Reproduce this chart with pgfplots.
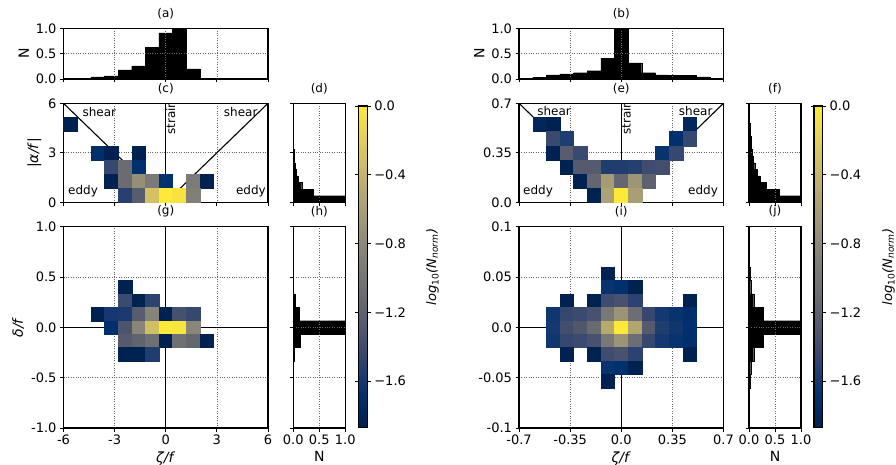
\documentclass[border=0pt]{standalone}
\usepackage{fontspec}
\setmainfont{DejaVu Sans}
\usepackage{pgfplots}
\pgfplotsset{compat=1.18}
\pgfplotsset{colormap={cividis}{rgb255=(0,32,77) rgb255=(0,48,111) rgb255=(45,66,112) rgb255=(80,86,110) rgb255=(104,106,112) rgb255=(124,123,120) rgb255=(149,143,120) rgb255=(174,163,115) rgb255=(201,184,104) rgb255=(229,207,90) rgb255=(254,232,56)}}
\newcommand{\fs}[1]{\fontsize{#1}{#1}\selectfont}
\tikzset{ann/.style={font=\fs{12}}, ref/.style={black, line width=1.1pt}}
\pgfplotsset{
 base/.style={scale only axis, anchor=south west, axis line style={line width=1.2pt},
   every tick/.style={black, line width=0.9pt}, tick align=outside, major tick length=3.5pt,
   xtick pos=bottom, ytick pos=left, grid=major, grid style={dotted, black!60, line width=0.7pt},
   axis on top, scaled ticks=false, tick label style={font=\fs{13}}, label style={font=\fs{14}},
   title style={font=\fs{12}, at={(0.5,1)}, anchor=south, yshift=0pt},
   colormap name=cividis, point meta min=-1.87, point meta max=0},
 hmap/.style={axis on top=false},
 heat/.style={scatter, only marks, mark=square*, point meta=explicit,
   scatter/use mapped color={draw=mapped color, fill=mapped color}},
 hist/.style={fill=black, draw=black, line width=0.2pt},
 cb/.style={scale only axis, anchor=south west, hide axis, width=8.6pt, height=321.5pt, xmin=0, xmax=1, ymin=0, ymax=1,
   colormap name=cividis, point meta min=-1.87, point meta max=0, colorbar, colorbar shift/.style={},
   colorbar style={at={(parent axis.south west)}, anchor=south west, scale only axis, width=8.6pt, height=321.5pt,
     axis line style={line width=1.2pt}, every tick/.style={black, line width=0.9pt}, tick align=outside, major tick length=3.5pt,
     ytick={0,-0.4,-0.8,-1.2,-1.6}, yticklabels={0.0,−0.4,−0.8,−1.2,−1.6}, tick label style={font=\fs{13}}}},
}
\begin{document}
\begin{tikzpicture}
\useasboundingbox (0,0) rectangle (896pt,464pt);
% ---------------- LEFT ----------------
\begin{axis}[base, at={(63.5pt,385pt)}, width=204.5pt, height=50.7pt,
 xmin=-6, xmax=6, ymin=0, ymax=1, xtick={-6,-3,0,3,6}, xticklabels={,,,,}, ytick={0,0.5,1}, yticklabels={0.0,0.5,1.0},
 ylabel={N}, title={(a)}]
\addplot[ybar interval, hist] coordinates {(-4.4,0.04) (-3.6,0.06) (-2.8,0.18) (-2.0,0.26) (-1.2,0.62) (-0.4,0.91) (0.4,1.0) (1.2,0.2) (2.0,0.2)};
\end{axis}
\begin{axis}[base, hmap, at={(63.5pt,261.7pt)}, width=204.5pt, height=99pt,
 xmin=-6, xmax=6, ymin=0, ymax=6, xtick={-6,-3,0,3,6}, xticklabels={,,,,}, ytick={0,3,6}, yticklabels={0,3,6},
 ylabel={|\textit{α/f}|}, title={(c)}]
\addplot[heat, mark size=6.82pt, mark options={line width=0.2pt, yscale=1.037}] coordinates {
(-5.6,4.714) [-1.85]
(-4.0,3.0) [-1.70] (-3.2,3.0) [-1.85] (-1.6,3.0) [-1.85]
(-3.2,2.1429) [-1.45] (-2.4,2.1429) [-1.10] (-1.6,2.1429) [-1.68]
(-3.2,1.2857) [-1.85] (-2.4,1.2857) [-1.10] (-1.6,1.2857) [-0.75] (-0.8,1.2857) [-0.94] (0,1.2857) [-1.68] (1.6,1.2857) [-0.93] (2.4,1.2857) [-1.85]
(-2.4,0.4286) [-1.52] (-1.6,0.4286) [-1.25] (-0.8,0.4286) [-0.30] (0,0.4286) [0] (0.8,0.4286) [-0.04] (1.6,0.4286) [-0.90]
};
\addplot[ref] coordinates {(-6,6) (0,0) (6,6)};
\addplot[ref] coordinates {(0,0) (0,6)};
\node[ann] at (axis cs:-3.9,5.5) {shear};
\node[ann] at (axis cs:4.4,5.5) {shear};
\node[ann] at (axis cs:-4.85,0.68) {eddy};
\node[ann] at (axis cs:5.0,0.68) {eddy};
\node[ann, rotate=90, anchor=north east, inner sep=0pt, xshift=3pt] at (axis cs:0,6) {strain};
\end{axis}
\begin{axis}[base, hmap, at={(63.5pt,36pt)}, width=204.5pt, height=201.3pt,
 xmin=-6, xmax=6, ymin=-1, ymax=1, xtick={-6,-3,0,3,6}, xticklabels={-6,-3,0,3,6},
 ytick={-1,-0.5,0,0.5,1}, yticklabels={-1.0,-0.5,0.0,0.5,1.0},
 xlabel={\textit{ζ/f}}, ylabel={\textit{δ/f}}, title={(g)}]
\addplot[heat, mark size=6.82pt, mark options={line width=0.2pt, yscale=0.985}] coordinates {
(-2.4,0.4) [-1.85]
(-2.4,0.2667) [-1.42] (-1.6,0.2667) [-1.85] (-0.8,0.2667) [-1.50]
(-4.0,0.1333) [-1.85] (-3.2,0.1333) [-1.60] (-2.4,0.1333) [-1.57] (-1.6,0.1333) [-1.25] (-0.8,0.1333) [-0.86] (0,0.1333) [-1.85] (0.8,0.1333) [-1.36] (1.6,0.1333) [-1.44]
(-3.2,0) [-1.70] (-2.4,0) [-1.33] (-1.6,0) [-0.84] (-0.8,0) [-0.32] (0,0) [0] (0.8,0) [-0.03] (1.6,0) [-0.84]
(-2.4,-0.1333) [-1.27] (-1.6,-0.1333) [-1.18] (-0.8,-0.1333) [-1.06] (0,-0.1333) [-1.85] (0.8,-0.1333) [-1.06] (1.6,-0.1333) [-1.15] (2.4,-0.1333) [-1.85]
(-2.4,-0.2667) [-1.85] (-1.6,-0.2667) [-1.85] (-0.8,-0.2667) [-1.55]
};
\addplot[ref] coordinates {(0,-1) (0,1)};
\addplot[ref] coordinates {(-6,0) (6,0)};
\end{axis}
\begin{axis}[base, at={(293.3pt,261.7pt)}, width=52pt, height=99pt,
 xmin=0, xmax=1, ymin=0, ymax=6, xtick={0,0.5,1}, xticklabels={,,}, ytick={0,3,6}, yticklabels={,,}, title={(d)}]
\addplot[xbar interval, hist] coordinates {(1,0) (0.39,0.4) (0.16,0.8) (0.1,1.2) (0.06,1.6) (0.035,2.0) (0.02,2.4) (0.006,2.8) (0.006,3.2)};
\end{axis}
\begin{axis}[base, at={(293.3pt,36pt)}, width=52pt, height=201.3pt,
 xmin=0, xmax=1, ymin=-1, ymax=1, xtick={0,0.5,1}, xticklabels={0.0,0.5,1.0}, ytick={-1,-0.5,0,0.5,1}, yticklabels={,,,,},
 xlabel={N}, title={(h)}]
\addplot[xbar interval, hist] coordinates {(0.006,-0.3333) (0.125,-0.2) (1,-0.0667) (0.11,0.0667) (0.033,0.2) (0.005,0.3333) (0.005,0.4667)};
\end{axis}
\begin{axis}[cb, at={(358.7pt,36.5pt)}]
\addplot[draw=none] coordinates {(0,0)};
\end{axis}
\node[font=\fs{13}, rotate=90, inner sep=0pt] at (432.5pt,197pt) {\textit{log}\textsubscript{10}\textit{(N}\textsubscript{\textit{norm}}\textit{)}};
% ---------------- RIGHT ----------------
\begin{axis}[base, at={(519pt,385pt)}, width=204.5pt, height=50.7pt,
 xmin=-0.7, xmax=0.7, ymin=0, ymax=1, xtick={-0.7,-0.35,0,0.35,0.7}, xticklabels={,,,,}, ytick={0,0.5,1}, yticklabels={0.0,0.5,1.0},
 ylabel={N}, title={(b)}]
\addplot[ybar interval, hist] coordinates {(-0.7,0.013) (-0.6067,0.033) (-0.5133,0.08) (-0.42,0.1) (-0.3267,0.125) (-0.2333,0.165) (-0.14,0.41) (-0.0467,1.0) (0.0467,0.32) (0.14,0.125) (0.2333,0.08) (0.3267,0.072) (0.42,0.072) (0.5133,0.04) (0.6067,0.013) (0.7,0.013)};
\end{axis}
\begin{axis}[base, hmap, at={(519pt,261.7pt)}, width=204.5pt, height=99pt,
 xmin=-0.7, xmax=0.7, ymin=0, ymax=0.7, xtick={-0.7,-0.35,0,0.35,0.7}, xticklabels={,,,,}, ytick={0,0.35,0.7}, yticklabels={0.0,0.35,0.7},
 title={(e)}]
\addplot[heat, mark size=6.82pt, mark options={line width=0.2pt, yscale=1.037}] coordinates {
(-0.56,0.55) [-1.80] (-0.4667,0.55) [-1.85] (0.4667,0.55) [-1.78]
(-0.4667,0.45) [-1.43] (-0.3733,0.45) [-1.55] (0.3733,0.45) [-1.68] (0.4667,0.45) [-1.45]
(-0.4667,0.35) [-1.85] (-0.3733,0.35) [-1.25] (-0.28,0.35) [-1.43] (0.28,0.35) [-1.65] (0.3733,0.35) [-1.45]
(-0.3733,0.25) [-1.85] (-0.28,0.25) [-1.27] (-0.1867,0.25) [-1.27] (-0.0933,0.25) [-1.55] (0,0.25) [-1.55] (0.0933,0.25) [-1.53] (0.1867,0.25) [-1.40] (0.28,0.25) [-1.38]
(-0.28,0.15) [-1.85] (-0.1867,0.15) [-1.16] (-0.0933,0.15) [-0.63] (0,0.15) [-1.15] (0.0933,0.15) [-0.69] (0.1867,0.15) [-1.20]
(-0.1867,0.05) [-1.85] (-0.0933,0.05) [-0.57] (0,0.05) [0] (0.0933,0.05) [-0.60]
};
\addplot[ref] coordinates {(-0.7,0.7) (0,0) (0.7,0.7)};
\addplot[ref] coordinates {(0,0) (0,0.7)};
\node[ann] at (axis cs:-0.46,0.645) {shear};
\node[ann] at (axis cs:0.51,0.645) {shear};
\node[ann] at (axis cs:-0.57,0.078) {eddy};
\node[ann] at (axis cs:0.56,0.078) {eddy};
\node[ann, rotate=90, anchor=north east, inner sep=0pt, xshift=3pt] at (axis cs:0,0.7) {strain};
\end{axis}
\begin{axis}[base, hmap, at={(519pt,36pt)}, width=204.5pt, height=201.3pt,
 xmin=-0.7, xmax=0.7, ymin=-0.1, ymax=0.1, xtick={-0.7,-0.35,0,0.35,0.7}, xticklabels={-0.7,-0.35,0.0,0.35,0.7},
 ytick={-0.1,-0.05,0,0.05,0.1}, yticklabels={-0.1,-0.05,0.0,0.05,0.1},
 xlabel={\textit{ζ/f}}, title={(i)}]
\addplot[heat, mark size=6.82pt, mark options={line width=0.2pt, yscale=0.985}] coordinates {
(-0.0933,0.05333) [-1.85]
(-0.0933,0.04) [-1.65] (0,0.04) [-1.68] (0.0933,0.04) [-1.85]
(-0.3733,0.02667) [-1.85] (-0.1867,0.02667) [-1.85] (-0.0933,0.02667) [-1.40] (0,0.02667) [-1.35] (0.0933,0.02667) [-1.50] (0.4667,0.02667) [-1.85]
(-0.4667,0.01333) [-1.62] (-0.3733,0.01333) [-1.45] (-0.28,0.01333) [-1.42] (-0.1867,0.01333) [-1.35] (-0.0933,0.01333) [-0.97] (0,0.01333) [-0.70] (0.0933,0.01333) [-1.08] (0.1867,0.01333) [-1.45] (0.28,0.01333) [-1.60] (0.3733,0.01333) [-1.65] (0.4667,0.01333) [-1.70]
(-0.4667,0) [-1.60] (-0.3733,0) [-1.38] (-0.28,0) [-1.31] (-0.1867,0) [-1.12] (-0.0933,0) [-0.50] (0,0) [0] (0.0933,0) [-0.54] (0.1867,0) [-1.27] (0.28,0) [-1.55] (0.3733,0) [-1.62] (0.4667,0) [-1.68]
(-0.4667,-0.01333) [-1.62] (-0.3733,-0.01333) [-1.45] (-0.28,-0.01333) [-1.42] (-0.1867,-0.01333) [-1.35] (-0.0933,-0.01333) [-0.97] (0,-0.01333) [-0.70] (0.0933,-0.01333) [-1.08] (0.1867,-0.01333) [-1.45] (0.28,-0.01333) [-1.60] (0.3733,-0.01333) [-1.65] (0.4667,-0.01333) [-1.70]
(-0.3733,-0.02667) [-1.85] (-0.1867,-0.02667) [-1.85] (-0.0933,-0.02667) [-1.40] (0,-0.02667) [-1.35] (0.0933,-0.02667) [-1.50] (0.4667,-0.02667) [-1.85]
(-0.0933,-0.04) [-1.65] (0,-0.04) [-1.68] (0.0933,-0.04) [-1.85]
(-0.0933,-0.05333) [-1.85]
};
\addplot[ref] coordinates {(0,-0.1) (0,0.1)};
\addplot[ref] coordinates {(-0.7,0) (0.7,0)};
\end{axis}
\begin{axis}[base, at={(749pt,261.7pt)}, width=52pt, height=99pt,
 xmin=0, xmax=1, ymin=0, ymax=0.7, xtick={0,0.5,1}, xticklabels={,,}, ytick={0,0.35,0.7}, yticklabels={,,}, title={(f)}]
\addplot[xbar interval, hist] coordinates {(1,0) (0.58,0.04667) (0.33,0.09333) (0.22,0.14) (0.15,0.18667) (0.11,0.23333) (0.08,0.28) (0.06,0.32667) (0.045,0.37333) (0.035,0.42) (0.025,0.46667) (0.017,0.51333) (0.01,0.56) (0.005,0.60667) (0.005,0.65333)};
\end{axis}
\begin{axis}[base, at={(749pt,36pt)}, width=52pt, height=201.3pt,
 xmin=0, xmax=1, ymin=-0.1, ymax=0.1, xtick={0,0.5,1}, xticklabels={0.0,0.5,1.0}, ytick={-0.1,-0.05,0,0.05,0.1}, yticklabels={,,,,},
 xlabel={N}, title={(j)}]
\addplot[xbar interval, hist] coordinates {(0.004,-0.07333) (0.012,-0.06) (0.033,-0.04667) (0.09,-0.03333) (0.28,-0.02) (1,-0.00667) (0.28,0.00667) (0.09,0.02) (0.033,0.03333) (0.012,0.04667) (0.004,0.06) (0.004,0.07333)};
\end{axis}
\begin{axis}[cb, at={(814pt,36.5pt)}]
\addplot[draw=none] coordinates {(0,0)};
\end{axis}
\node[font=\fs{13}, rotate=90, inner sep=0pt] at (888.5pt,197pt) {\textit{log}\textsubscript{10}\textit{(N}\textsubscript{\textit{norm}}\textit{)}};
\end{tikzpicture}
\end{document}
